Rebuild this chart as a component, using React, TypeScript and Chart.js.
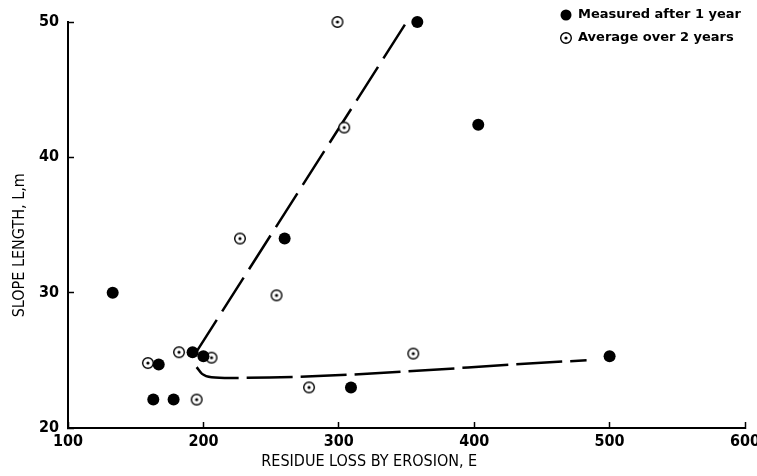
import React, { useEffect, useRef } from "react";
import { Chart, registerables } from "chart.js";

Chart.register(...registerables);

// Measured after 1 year (filled)
const measuredE = [133, 163, 178, 167, 192, 200, 260, 309, 358, 403, 500];
const measuredL = [30, 22.1, 22.1, 24.7, 25.6, 25.3, 34, 23, 50, 42.4, 25.3];
// Average over 2 years (open, dotted centre)
const averageE = [159, 182, 195, 206, 227, 254, 278, 299, 304, 355];
const averageL = [24.8, 25.6, 22.1, 25.2, 34, 29.8, 23, 50, 42.2, 25.5];
// Hand-drawn dashed trend lines
const upperFitE = [194, 352];
const upperFitL = [25.5, 50.3];
const lowerFitE = [195, 199, 206, 220, 483];
const lowerFitL = [24.5, 24.0, 23.75, 23.7, 25.0];

const xTicks = [100, 200, 300, 400, 500, 600];
const yTicks = [20, 30, 40, 50];
const seriesLabels = ["Measured after 1 year", "Average over 2 years"];
const xTitle = "RESIDUE LOSS BY EROSION, E";
const yTitle = "SLOPE LENGTH, L,m";

const toXY = (xs: number[], ys: number[]) => xs.map((x, i) => ({ x, y: ys[i] }));

function makeOpenMarker(): HTMLCanvasElement {
  const c = document.createElement("canvas");
  c.width = 14;
  c.height = 14;
  const g = c.getContext("2d")!;
  g.fillStyle = "#fff";
  g.strokeStyle = "#000";
  g.lineWidth = 1.4;
  g.beginPath();
  g.arc(7, 7, 5.3, 0, Math.PI * 2);
  g.fill();
  g.stroke();
  g.fillStyle = "#000";
  g.beginPath();
  g.arc(7, 7, 1.6, 0, Math.PI * 2);
  g.fill();
  return c;
}

const TICK_FONT = { family: "'DejaVu Sans Condensed', 'DejaVu Sans', sans-serif", size: 16, weight: "bold" as const };

export default function App() {
  const ref = useRef<HTMLCanvasElement | null>(null);

  useEffect(() => {
    document.body.style.margin = "0";
    const openMarker = makeOpenMarker();

    const overlay = {
      id: "overlay",
      afterDraw(chart: any) {
        const ctx = chart.ctx;
        const ca = chart.chartArea;
        ctx.save();
        ctx.fillStyle = "#000";
        // axis titles
        ctx.font = "16px 'DejaVu Sans Condensed', 'DejaVu Sans', sans-serif";
        ctx.textAlign = "center";
        ctx.textBaseline = "middle";
        ctx.fillText(xTitle, ca.left + ca.width * 0.445, 462);
        ctx.save();
        ctx.translate(20, ca.top + ca.height * 0.55);
        ctx.rotate(-Math.PI / 2);
        ctx.fillText(yTitle, 0, 0);
        ctx.restore();
        // legend
        ctx.font = "bold 13px 'DejaVu Sans', sans-serif";
        ctx.textAlign = "left";
        ctx.textBaseline = "middle";
        const rows = [15, 38];
        rows.forEach((yy, i) => {
          if (i === 0) {
            ctx.beginPath();
            ctx.arc(566, yy, 5.5, 0, Math.PI * 2);
            ctx.fill();
          } else {
            ctx.drawImage(openMarker, 566 - 7, yy - 7);
          }
          ctx.fillText(seriesLabels[i], 578, yy);
        });
        ctx.restore();
      },
    };

    const chart = new Chart(ref.current!, {
      type: "scatter",
      data: {
        datasets: [
          {
            label: seriesLabels[0],
            data: toXY(measuredE, measuredL),
            pointStyle: "circle",
            pointRadius: 6,
            backgroundColor: "#000",
            borderColor: "#000",
            borderWidth: 0,
            clip: false,
          } as any,
          {
            label: seriesLabels[1],
            data: toXY(averageE, averageL),
            pointStyle: openMarker,
            pointRadius: 6,
            clip: false,
          } as any,
          {
            label: "upper",
            data: toXY(upperFitE, upperFitL),
            showLine: true,
            pointRadius: 0,
            borderColor: "#000",
            borderWidth: 2.5,
            borderDash: [40, 10],
            clip: false,
          } as any,
          {
            label: "lower",
            data: toXY(lowerFitE, lowerFitL),
            showLine: true,
            pointRadius: 0,
            borderColor: "#000",
            borderWidth: 2.5,
            borderDash: [46, 8],
            cubicInterpolationMode: "monotone",
            clip: false,
          } as any,
        ],
      },
      options: {
        animation: false,
        responsive: false,
        events: [],
        layout: { padding: { top: 22, right: 12, left: 0, bottom: 0 } },
        plugins: { legend: { display: false }, tooltip: { enabled: false } },
        scales: {
          x: {
            type: "linear",
            min: 100,
            max: 600,
            afterBuildTicks: (s: any) => {
              s.ticks = xTicks.map((v) => ({ value: v }));
            },
            afterFit: (s: any) => {
              s.height = 48;
              s.paddingLeft = 0;
              s.paddingRight = 0;
            },
            ticks: { font: TICK_FONT, color: "#000", padding: 10, maxRotation: 0, autoSkip: false },
            grid: { drawOnChartArea: false, drawTicks: true, tickLength: -6, tickColor: "#000", tickWidth: 1.5 },
            border: { display: true, color: "#000", width: 2 },
          },
          y: {
            type: "linear",
            min: 20,
            max: 50,
            afterBuildTicks: (s: any) => {
              s.ticks = yTicks.map((v) => ({ value: v }));
            },
            afterFit: (s: any) => {
              s.width = 68;
              s.paddingTop = 0;
              s.paddingBottom = 0;
            },
            ticks: { font: TICK_FONT, color: "#000", padding: 15 },
            grid: { drawOnChartArea: false, drawTicks: true, tickLength: -6, tickColor: "#000", tickWidth: 1.5 },
            border: { display: true, color: "#000", width: 2 },
          },
        },
      },
      plugins: [overlay],
    } as any);

    return () => chart.destroy();
  }, []);

  return (
    <div style={{ width: 757, height: 476 }}>
      <canvas ref={ref} width={757} height={476} />
    </div>
  );
}
